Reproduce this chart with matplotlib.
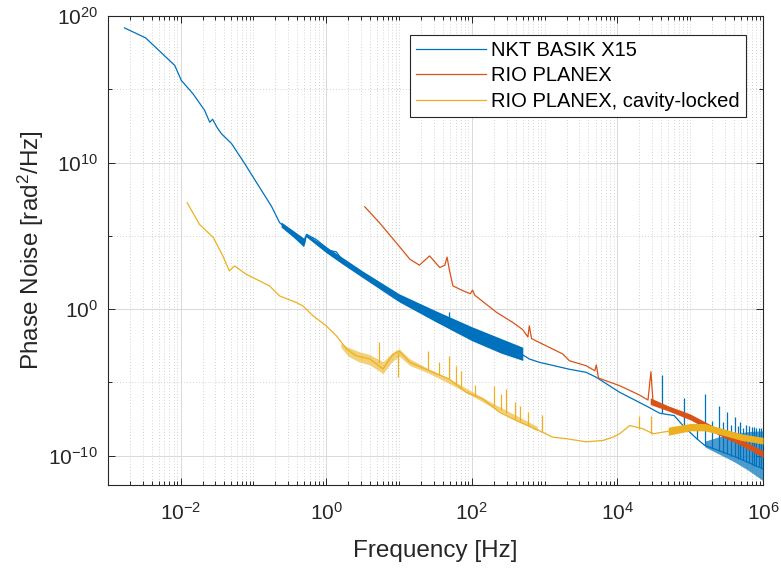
import numpy as np
import matplotlib
matplotlib.use("Agg")
from matplotlib import pyplot as plt
from matplotlib.ticker import FixedLocator, LogLocator, NullFormatter

plt.rcParams["font.family"] = ["Liberation Sans", "DejaVu Sans"]
plt.rcParams["mathtext.fontset"] = "custom"
plt.rcParams["mathtext.rm"] = "Liberation Sans"
plt.rcParams["mathtext.default"] = "regular"

# colours (MATLAB default order)
c_blue = "#0072BD"
c_red = "#D95319"
c_yel = "#EDB120"

# all values are log10 of frequency [Hz] and phase noise [rad^2/Hz]
# NKT BASIK X15
nkt_f = [-2.77, -2.48, -2.08, -1.99, -1.83, -1.67, -1.60, -1.56, -1.50, -1.44, -1.30,
         -1.12, -0.94, -0.75, -0.64, -0.57, -0.39, -0.30, -0.27, -0.14, 0.05, 0.14,
         0.23, 0.41, 0.60, 0.83, 1.05, 1.28, 1.42, 1.88, 2.34, 2.68, 2.79, 2.93,
         3.34, 3.57, 3.71, 4.03, 4.41, 4.58, 4.78, 4.90, 5.09, 5.20, 5.45, 5.68, 6.0]
nkt_p = [19.18, 18.5, 16.62, 15.6, 14.69, 13.56, 12.75, 12.95, 12.4, 11.97, 11.29,
         9.93, 8.5, 7.0, 5.9, 5.6, 5.0, 4.4, 5.1, 4.76, 4.0, 3.9,
         3.29, 2.72, 2.04, 1.36, 0.68, 0.0, -0.46, -1.59, -2.5, -3.06, -3.4, -3.63,
         -4.1, -4.31, -4.65, -5.67, -6.64, -7.1, -7.26, -7.94, -8.84, -9.3, -9.75, -10.2, -10.9]
# noisy band between 0.3 Hz and 500 Hz
nkt_band_f = [-0.62, -0.45, -0.31, -0.28, 0.0, 0.2, 0.5, 1.0, 1.5, 2.0, 2.4, 2.7]
nkt_band_lo = [5.6, 4.9, 4.25, 4.95, 3.85, 3.15, 2.15, 0.5, -0.85, -2.15, -3.0, -3.5]
nkt_band_hi = [5.95, 5.35, 4.85, 5.15, 4.25, 3.6, 2.6, 1.05, -0.1, -1.2, -2.0, -2.6]
# dense harmonic region near 1 MHz
nkt_hf_f = [5.2, 5.4, 5.6, 5.8, 6.0]
nkt_hf_lo = [-9.4, -9.9, -10.4, -11.0, -11.7]
nkt_hf_hi = [-9.0, -8.7, -8.5, -8.35, -8.3]
# spikes: position, base, top
nkt_spk_f = [1.68, 4.61, 4.91, 5.09, 5.20, 5.30, 5.39, 5.45, 5.50, 5.56, 5.61, 5.65,
             5.69, 5.73, 5.76, 5.81, 5.85, 5.88, 5.91, 5.94, 5.97]
nkt_spk_lo = [-1.2, -7.1, -7.95, -8.84, -9.3, -9.5, -9.7, -9.8, -9.9, -10.0, -10.1, -10.2,
              -10.25, -10.3, -10.4, -10.5, -10.6, -10.7, -10.7, -10.8, -10.85]
nkt_spk_hi = [-0.22, -4.49, -6.07, -7.8, -5.78, -7.6, -6.64, -7.7, -7.03, -7.9, -7.37, -8.0,
              -7.67, -8.1, -7.89, -7.94, -8.05, -8.05, -8.1, -8.1, -8.1]

# RIO PLANEX
rio_f = [0.53, 0.73, 0.96, 1.15, 1.28, 1.42, 1.56, 1.63, 1.66, 1.69, 1.74, 1.88, 1.98,
         2.01, 2.04, 2.11, 2.34, 2.56, 2.70, 2.77, 2.79, 2.82, 2.88, 3.11, 3.25, 3.34,
         3.57, 3.69, 3.71, 3.74, 4.03, 4.30, 4.42, 4.46, 4.49, 4.58, 4.94, 5.20, 5.40,
         5.68, 5.86, 6.0]
rio_p = [6.98, 5.9, 4.54, 3.4, 3.0, 3.63, 2.84, 3.0, 3.55, 2.72, 1.59, 1.25, 1.05,
         1.3, 0.95, 0.68, -0.22, -0.9, -1.4, -1.9, -1.14, -2.0, -2.16, -2.72, -3.06, -3.52,
         -3.86, -4.2, -3.8, -4.7, -5.22, -5.85, -6.2, -4.27, -6.4, -6.58, -7.26, -7.82, -8.39,
         -9.07, -9.52, -9.86]
rio_band_f = [4.45, 4.7, 5.0, 5.4, 5.7, 6.0]
rio_band_lo = [-6.5, -6.95, -7.55, -8.6, -9.3, -10.1]
rio_band_hi = [-6.05, -6.6, -7.15, -8.2, -8.9, -9.65]

# RIO PLANEX, cavity-locked
cav_f = [-1.91, -1.74, -1.55, -1.42, -1.33, -1.26, -1.10, -0.78, -0.64, -0.41, -0.32,
         -0.18, 0.0, 0.14, 0.28, 0.41, 0.60, 0.78, 0.90, 0.96, 1.01, 1.15, 1.47, 1.69,
         1.92, 2.15, 2.38, 2.61, 2.84, 2.97, 3.11, 3.30, 3.57, 3.80, 3.94, 4.03, 4.17,
         4.35, 4.49, 4.76, 5.0, 5.2, 5.45, 5.68, 6.0]
cav_p = [7.26, 5.78, 4.88, 3.63, 2.61, 2.95, 2.38, 1.59, 0.9, 0.45, 0.22,
         -0.46, -1.14, -1.82, -2.72, -3.18, -3.4, -4.08, -3.2, -2.95, -2.9, -3.63, -4.31, -4.76,
         -5.67, -6.12, -7.03, -7.6, -8.1, -8.39, -8.73, -8.84, -9.05, -8.96, -8.73, -8.5, -7.94,
         -8.16, -8.5, -8.28, -8.05, -8.05, -8.39, -8.73, -8.96]
cav_band_f = [0.2, 0.3, 0.45, 0.6, 0.78, 0.9, 1.0, 1.15, 1.4, 1.8, 2.3, 2.9]
cav_band_lo = [-2.6, -3.2, -3.6, -3.8, -4.4, -3.6, -3.2, -3.85, -4.35, -5.35, -6.75, -8.3]
cav_band_hi = [-2.3, -2.6, -2.9, -3.1, -3.6, -3.0, -2.7, -3.4, -4.05, -5.05, -6.45, -8.0]
cav_hf_f = [4.7, 5.0, 5.2, 5.45, 5.7, 6.0]
cav_hf_lo = [-8.6, -8.3, -8.3, -8.6, -8.95, -9.2]
cav_hf_hi = [-8.05, -7.8, -7.8, -8.15, -8.5, -8.75]
cav_spk_f = [0.73, 0.98, 1.40, 1.55, 1.69, 1.78, 1.85, 2.05, 2.31, 2.40, 2.47, 2.59,
             2.66, 2.77, 2.97, 4.29, 4.46]
cav_spk_lo = [-3.7, -3.0, -4.1, -4.5, -4.76, -5.1, -5.4, -5.9, -6.6, -6.9, -7.1, -7.5,
              -7.6, -7.9, -8.4, -8.2, -8.5]
cav_spk_hi = [-2.25, -4.6, -2.85, -3.6, -3.18, -3.9, -4.2, -5.2, -5.22, -5.8, -5.44, -6.35,
              -6.6, -7.03, -7.2, -7.26, -7.26]


def e(v):
    return 10.0 ** np.asarray(v)


fig = plt.figure(figsize=(7.81, 5.68), dpi=100)
ax = fig.add_axes([0.138, 0.146, 0.839, 0.826])

lw = 0.9
ax.plot(e(nkt_f), e(nkt_p), color=c_blue, lw=lw, label="NKT BASIK X15", zorder=3)
ax.fill_between(e(nkt_band_f), e(nkt_band_lo), e(nkt_band_hi), color=c_blue, lw=0, zorder=3)
ax.fill_between(e(nkt_hf_f), e(nkt_hf_lo), e(nkt_hf_hi), color=c_blue, alpha=0.7, lw=0, zorder=3)
ax.vlines(e(nkt_spk_f), e(nkt_spk_lo), e(nkt_spk_hi), color=c_blue, lw=lw, zorder=3)

ax.plot(e(rio_f), e(rio_p), color=c_red, lw=lw, label="RIO PLANEX", zorder=4)
ax.fill_between(e(rio_band_f), e(rio_band_lo), e(rio_band_hi), color=c_red, lw=0, zorder=4)

ax.plot(e(cav_f), e(cav_p), color=c_yel, lw=lw, label="RIO PLANEX, cavity-locked", zorder=5)
ax.fill_between(e(cav_band_f), e(cav_band_lo), e(cav_band_hi), color=c_yel, alpha=0.6, lw=0, zorder=5)
ax.fill_between(e(cav_hf_f), e(cav_hf_lo), e(cav_hf_hi), color=c_yel, lw=0, zorder=5)
ax.vlines(e(cav_spk_f), e(cav_spk_lo), e(cav_spk_hi), color=c_yel, lw=lw, zorder=5)

ax.set_xscale("log")
ax.set_yscale("log")
ax.set_xlim(1e-3, 1e6)
ax.set_ylim(1e-12, 1e20)

ax.xaxis.set_major_locator(FixedLocator([1e-2, 1e0, 1e2, 1e4, 1e6]))
ax.xaxis.set_minor_locator(LogLocator(base=10, subs=np.arange(1, 10), numticks=100))
ax.xaxis.set_minor_formatter(NullFormatter())
ax.yaxis.set_major_locator(FixedLocator([1e-10, 1e0, 1e10, 1e20]))
ax.yaxis.set_minor_locator(FixedLocator([1e-5, 1e5, 1e15]))
ax.yaxis.set_minor_formatter(NullFormatter())

ax.grid(True, which="major", color="#d9d9d9", lw=0.7, ls="-", zorder=0)
ax.grid(True, which="minor", color="#c4c4c4", lw=0.6, ls=(0, (1, 2.5)), zorder=0)
ax.set_axisbelow(True)

ax.tick_params(which="both", direction="in", top=True, right=True, colors="#262626",
               labelsize=15, width=0.7)
ax.tick_params(which="major", length=5)
ax.tick_params(which="minor", length=3)
ax.tick_params(axis="x", which="major", pad=12)
ax.tick_params(axis="y", which="major", pad=7)
for s in ax.spines.values():
    s.set_color("#262626")
    s.set_linewidth(0.8)

ax.set_xlabel("Frequency [Hz]", fontsize=17.5, color="#262626", labelpad=12)
ax.set_ylabel("Phase Noise [rad$^2$/Hz]", fontsize=17.5, color="#262626", labelpad=2)

leg = ax.legend(loc="upper right", bbox_to_anchor=(0.974, 0.96), borderaxespad=0,
                fontsize=14.5, handlelength=3.5, fancybox=False, framealpha=1,
                edgecolor="#262626", borderpad=0.3, labelspacing=0.33, handletextpad=0.25)
leg.get_frame().set_linewidth(0.8)

fig.savefig("out.png", dpi=100)
